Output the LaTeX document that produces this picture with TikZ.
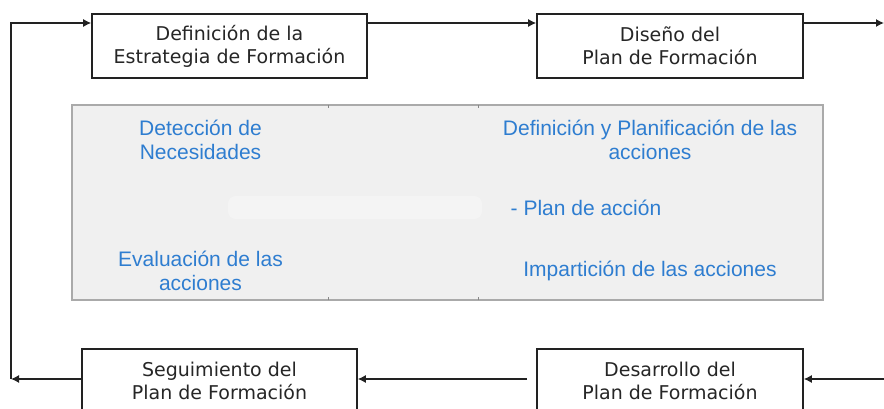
\documentclass[tikz,border=0pt]{standalone}
\usepackage{fontspec}
\setmainfont{DejaVu Sans}
\newfontfamily\bluefont{Liberation Sans}
\usetikzlibrary{arrows.meta}
\definecolor{txtblue}{RGB}{46,125,208}
\definecolor{panelfill}{RGB}{240,240,240}
\definecolor{panelline}{RGB}{170,170,170}
\definecolor{lineclr}{RGB}{34,34,34}
\tikzset{
  stagebox/.style={draw=lineclr, line width=1.6pt, fill=white, minimum width=275pt, minimum height=64pt, inner sep=0pt, align=center, font=\fontsize{19}{23}\selectfont, text=black!85},
  bluetxt/.style={text=txtblue, align=center, inner sep=0pt, font=\bluefont\fontsize{21}{24}\selectfont},
  arr/.style={draw=lineclr, line width=1.3pt, -{Latex[length=8pt,width=8pt]}},
  plain/.style={draw=lineclr, line width=1.3pt}
}
\begin{document}
\begin{tikzpicture}[x=1pt,y=-1pt]
\useasboundingbox (0,0) rectangle (884,409);
\clip (0,0) rectangle (884,409);
% panel
\draw[fill=panelfill, draw=panelline, line width=1.1pt] (72,105) rectangle (823,300);
\draw[panelline!80!black, line width=0.8pt] (328,105) -- (328,108) (478,105) -- (478,108) (328,300) -- (328,297) (478,300) -- (478,297);
\fill[white, opacity=0.3, rounded corners=8pt] (228,196) rectangle (482,219);
% boxes
\node[stagebox] (estr) at (229.5,46) {Definición de la\\Estrategia de Formación};
\node[stagebox, minimum width=266pt] (dise) at (670,46) {Diseño del\\Plan de Formación};
\node[stagebox] (segu) at (219.5,381) {Seguimiento del\\Plan de Formación};
\node[stagebox, minimum width=266pt] (desa) at (670,381) {Desarrollo del\\Plan de Formación};
% panel texts
\node[bluetxt] (det) at (200.5,140) {Detección de\\Necesidades};
\node[bluetxt] (eva) at (200.5,271) {Evaluación de las\\acciones};
\node[bluetxt] (dpl) at (650,140) {Definición y Planificación de las\\acciones};
\node[bluetxt] (pla) at (586,208) {- Plan de acción};
\node[bluetxt] (imp) at (650,271) {Impartición de las acciones};
% helper coordinates
\coordinate (yTop) at (0,23);
\coordinate (yBot) at (0,379);
\coordinate (outR) at (884,23);
\coordinate (inR) at (884,379);
\coordinate (loopB) at (11,379);
\coordinate (loopT) at (11,23);
% connectors
\draw[arr] (estr.east |- yTop) -- (dise.west |- yTop);
\draw[arr] (dise.east |- yTop) -- (outR);
\draw[arr] (inR) -- (desa.east |- yBot);
\draw[arr, shorten <=9pt] (desa.west |- yBot) -- (segu.east |- yBot);
\draw[arr] (segu.west |- yBot) -- (loopB);
\draw[arr] (loopB) -- (loopT) -- (estr.west |- yTop);
\end{tikzpicture}
\end{document}
